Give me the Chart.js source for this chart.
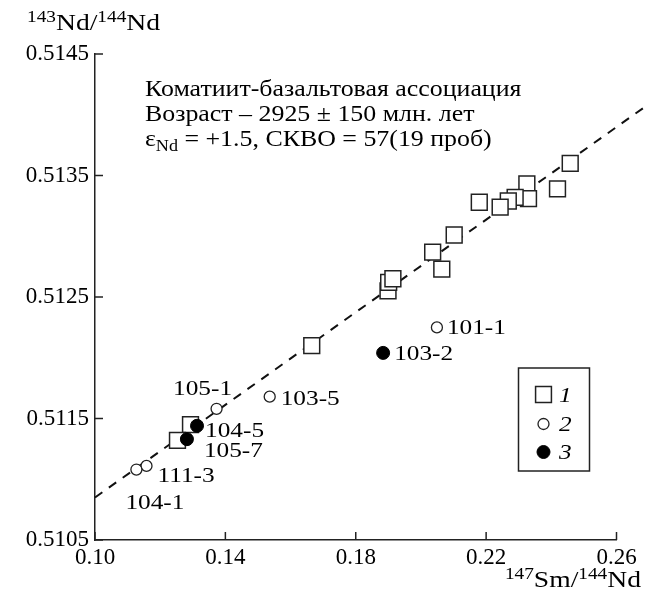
<!DOCTYPE html>
<html>
<head>
<meta charset="utf-8">
<script src="https://cdn.jsdelivr.net/npm/chart.js@4"></script>
<style>
  html, body { margin: 0; padding: 0; background: #fff; }
  #wrap { width: 655px; height: 598px; }
</style>
</head>
<body>
<div id="wrap"><canvas id="myChart" width="655" height="598"></canvas></div>
<script>
// series 1 - squares
const squareX = [0.2458, 0.2419, 0.2325, 0.2330, 0.2289, 0.2268, 0.2243, 0.2179, 0.2102, 0.2036, 0.2064, 0.1899, 0.1901, 0.1914, 0.1665, 0.1293, 0.1253];
const squareY = [0.51360, 0.51339, 0.51343, 0.51331, 0.51332, 0.51329, 0.51324, 0.51328, 0.51301, 0.51287, 0.51273, 0.51255, 0.51262, 0.51265, 0.51210, 0.51145, 0.51132];
// series 2 - open circles
const openX = [0.2049, 0.1536, 0.1373, 0.1158, 0.1127];
const openY = [0.51225, 0.51168, 0.51158, 0.51111, 0.51108];
const openLabels = ['101-1', '103-5', '105-1', '111-3', '104-1'];
// series 3 - filled circles
const filledX = [0.1884, 0.1313, 0.1282];
const filledY = [0.51204, 0.51144, 0.51133];
const filledLabels = ['103-2', '104-5', '105-7'];
// isochron
const isoX = [0.10, 0.2695];
const isoY = [0.51085, 0.51408];

const xTicks = [0.10, 0.14, 0.18, 0.22, 0.26];
const yTicks = [0.5105, 0.5115, 0.5125, 0.5135, 0.5145];
const legendLabels = ['1', '2', '3'];

// label offsets in px relative to the point (dx, dy, align)
const labelPos = {
  '101-1': [10, 0, 'left'], '103-5': [11, 1, 'left'], '105-1': [-14, -21, 'center'],
  '111-3': [11, 9, 'left'], '104-1': [-11, 32, 'left'],
  '103-2': [11, 0, 'left'], '104-5': [8, 4, 'left'], '105-7': [17, 11, 'left']
};

const SERIF = '"Liberation Serif", "Times New Roman", serif';
const SX = 1.15;

function pts(xs, ys) { return xs.map((x, i) => ({ x: x, y: ys[i] })); }

function stretchText(ctx, str, x, y, size, style) {
  ctx.save();
  ctx.font = (style || '') + ' ' + size + 'px ' + SERIF;
  const w = ctx.measureText(str).width * SX;
  ctx.translate(x, y);
  ctx.scale(SX, 1);
  ctx.textBaseline = 'alphabetic';
  ctx.textAlign = 'left';
  ctx.fillStyle = '#000';
  ctx.fillText(str, 0, 0);
  ctx.restore();
  return w;
}

// runs: [text, kind] kind: '', 'sup', 'sub'
function richText(ctx, runs, x, y, size) {
  let cx = x;
  runs.forEach(r => {
    if (r[1] === 'sup') cx += stretchText(ctx, r[0], cx, y - 8, size * 0.7);
    else if (r[1] === 'sub') cx += stretchText(ctx, r[0], cx, y + 5, size * 0.7);
    else cx += stretchText(ctx, r[0], cx, y, size);
  });
  return cx - x;
}
function richWidth(ctx, runs, size) {
  let w = 0;
  runs.forEach(r => {
    const s = r[1] ? size * 0.7 : size;
    ctx.font = s + 'px ' + SERIF;
    w += ctx.measureText(r[0]).width * SX;
  });
  return w;
}

const decorPlugin = {
  id: 'decor',
  afterDraw(chart) {
    const ctx = chart.ctx;
    const xs = chart.scales.x, ys = chart.scales.y;
    const ca = chart.chartArea;
    // inward ticks
    ctx.save();
    ctx.strokeStyle = '#222';
    ctx.lineWidth = 1.5;
    xTicks.forEach(v => {
      const px = xs.getPixelForValue(v);
      ctx.beginPath(); ctx.moveTo(px, ca.bottom); ctx.lineTo(px, ca.bottom - 8); ctx.stroke();
    });
    yTicks.forEach(v => {
      const py = ys.getPixelForValue(v);
      ctx.beginPath(); ctx.moveTo(ca.left, py); ctx.lineTo(ca.left + 8, py); ctx.stroke();
    });
    ctx.restore();

    // point labels
    const lab = (xsArr, ysArr, names) => names.forEach((n, i) => {
      const p = labelPos[n];
      const px = xs.getPixelForValue(xsArr[i]) + p[0];
      const py = ys.getPixelForValue(ysArr[i]) + p[1] + 7;
      ctx.font = '22px ' + SERIF;
      const w = ctx.measureText(n).width * SX;
      stretchText(ctx, n, p[2] === 'center' ? px - w / 2 : px, py, 22);
    });
    lab(openX, openY, openLabels);
    lab(filledX, filledY, filledLabels);

    // annotation
    stretchText(ctx, 'Коматиит-базальтовая ассоциация', 145, 96, 22.5);
    stretchText(ctx, 'Возраст – 2925 ± 150 млн. лет', 145, 121, 22.5);
    richText(ctx, [['ε', ''], ['Nd', 'sub'], [' = +1.5, СКВО = 57(19 проб)', '']], 145, 146, 22.5);

    // axis titles
    richText(ctx, [['143', 'sup'], ['Nd/', ''], ['144', 'sup'], ['Nd', '']], 27, 30, 24);
    const xr = [['147', 'sup'], ['Sm/', ''], ['144', 'sup'], ['Nd', '']];
    richText(ctx, xr, 641 - richWidth(ctx, xr, 24), 587, 24);

    // legend box
    ctx.save();
    ctx.strokeStyle = '#222';
    ctx.lineWidth = 1.5;
    ctx.strokeRect(518.5, 368, 71, 103);
    const ds = chart.data.datasets;
    const items = [ds[2], ds[1], ds[0]];
    const ly = [394.5, 424, 452];
    items.forEach((d, i) => {
      ctx.fillStyle = d.pointBackgroundColor;
      ctx.strokeStyle = d.pointBorderColor;
      ctx.lineWidth = d.pointBorderWidth;
      Chart.helpers.drawPoint(ctx, {
        pointStyle: d.pointStyle, radius: d.pointRadius, borderWidth: d.pointBorderWidth, rotation: 0
      }, 543.5, ly[i]);
      stretchText(ctx, legendLabels[i], 559, ly[i] + 7, 22, 'italic');
    });
    ctx.restore();
  }
};

new Chart(document.getElementById('myChart'), {
  type: 'scatter',
  data: {
    datasets: [
      {
        data: pts(filledX, filledY),
        pointStyle: 'circle', pointRadius: 6.5,
        pointBackgroundColor: '#000', pointBorderColor: '#000', pointBorderWidth: 1
      },
      {
        data: pts(openX, openY),
        pointStyle: 'circle', pointRadius: 5.5,
        pointBackgroundColor: '#fff', pointBorderColor: '#222', pointBorderWidth: 1.3
      },
      {
        data: pts(squareX, squareY),
        pointStyle: 'rect', pointRadius: 11.2,
        pointBackgroundColor: '#fff', pointBorderColor: '#222', pointBorderWidth: 1.5
      },
      {
        data: pts(isoX, isoY),
        showLine: true, pointRadius: 0,
        borderColor: '#111', borderWidth: 2, borderDash: [9, 8],
        clip: false
      }
    ]
  },
  options: {
    responsive: false,
    animation: false,
    layout: { padding: { top: 54, right: 38.5, left: 0, bottom: 0 } },
    plugins: { legend: { display: false }, tooltip: { enabled: false } },
    scales: {
      x: {
        type: 'linear', min: 0.10, max: 0.26,
        afterBuildTicks: s => { s.ticks = xTicks.map(v => ({ value: v })); },
        afterFit: s => { s.height = 58; },
        grid: { drawOnChartArea: false, drawTicks: false },
        border: { display: true, color: '#222', width: 1.5 },
        ticks: {
          padding: 4, color: '#000', maxRotation: 0,
          font: { family: SERIF, size: 23 },
          callback: v => v.toFixed(2)
        }
      },
      y: {
        type: 'linear', min: 0.5105, max: 0.5145,
        afterBuildTicks: s => { s.ticks = yTicks.map(v => ({ value: v })); },
        afterFit: s => { s.width = 95; },
        grid: { drawOnChartArea: false, drawTicks: false },
        border: { display: true, color: '#222', width: 1.5 },
        ticks: {
          padding: 6, color: '#000',
          font: { family: SERIF, size: 23 },
          callback: v => v.toFixed(4)
        }
      }
    }
  },
  plugins: [decorPlugin]
});
</script>
</body>
</html>
